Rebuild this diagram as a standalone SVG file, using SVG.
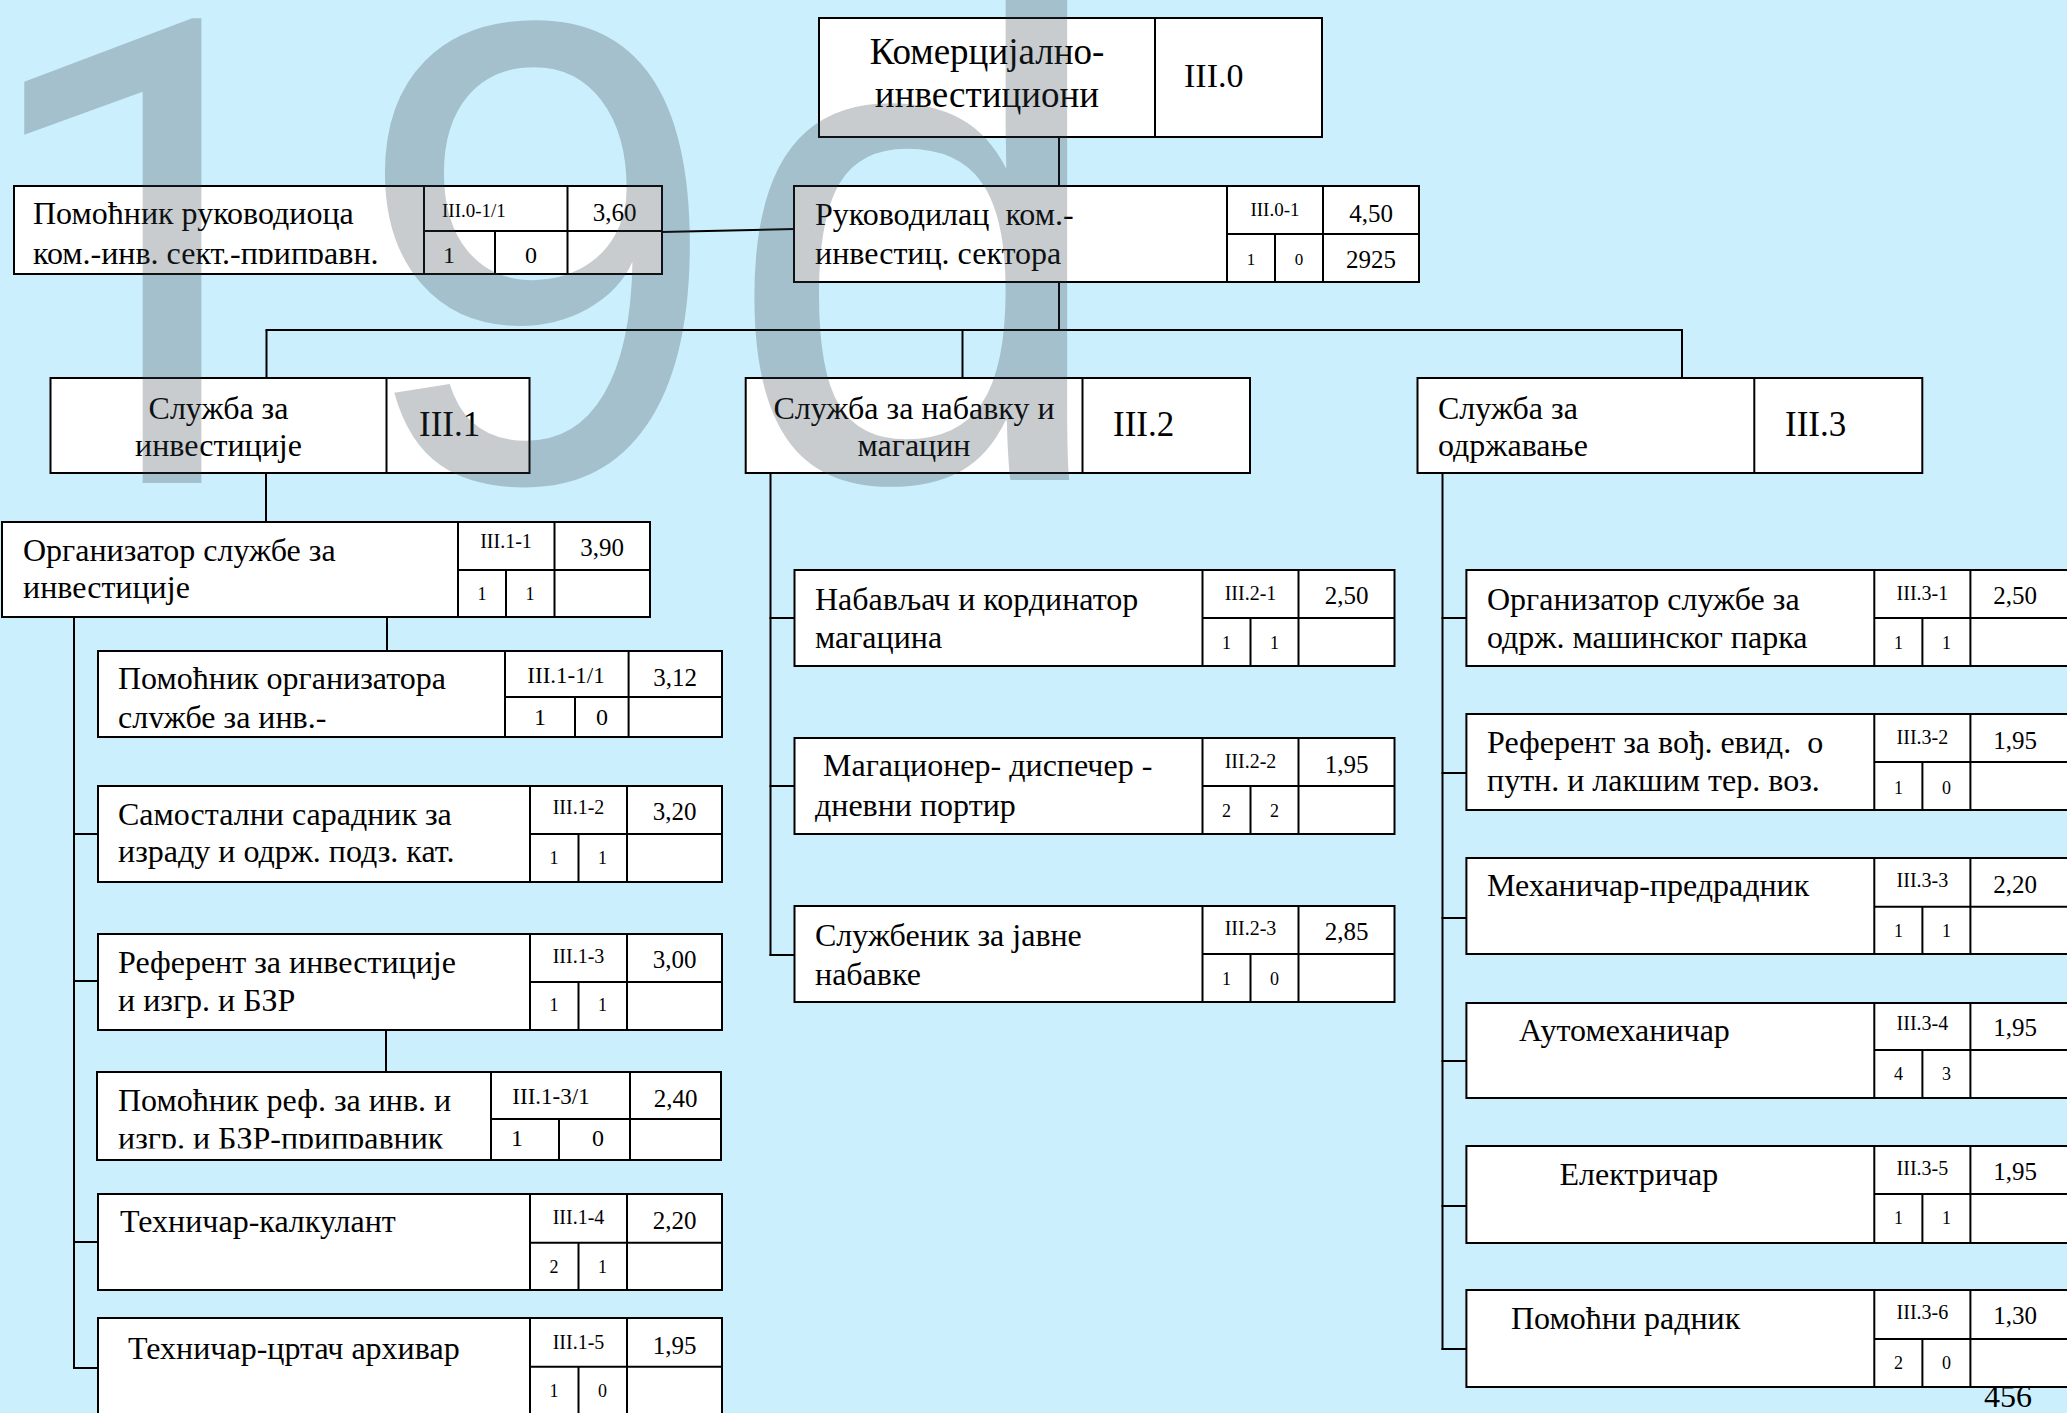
<svg xmlns="http://www.w3.org/2000/svg" width="2067" height="1413" viewBox="0 0 2067 1413">
<style>
.bg{fill:#CCEFFD}
.box{fill:#fff;stroke:#000;stroke-width:2}
.ln{stroke:#000;stroke-width:2;fill:none}
text{font-family:"Liberation Serif","Times New Roman",serif;fill:#000}
.lbl{font-size:32px}
.svc{font-size:32px}
.c{text-anchor:middle}
.hdr{font-size:35px}
.code{font-size:20px;text-anchor:middle}
.val{font-size:25px;text-anchor:middle}
.cnt{font-size:18px;text-anchor:middle}
.cntL{font-size:24px;text-anchor:middle}
.wm{font-family:"Liberation Sans",Arial,sans-serif;fill:#34424A;fill-opacity:0.27}
.wm1{font-family:Roboto,Arial,sans-serif;fill:#34424A;fill-opacity:0.27}
</style>
<defs>
<clipPath id="clipP0"><rect x="14" y="186" width="410" height="78"/></clipPath>
<clipPath id="clipP1"><rect x="98" y="651" width="407" height="77"/></clipPath>
<clipPath id="clipP2"><rect x="97" y="1072" width="394" height="76.5"/></clipPath>
</defs>
<rect class="bg" x="0" y="0" width="2067" height="1413"/>

<g id="connectors">
<line class="ln" x1="1059" y1="137" x2="1059" y2="186"/>
<line class="ln" x1="1059" y1="282" x2="1059" y2="330"/>
<line class="ln" x1="662" y1="232" x2="794" y2="229"/>
<line class="ln" x1="265.5" y1="330" x2="1683" y2="330"/>
<line class="ln" x1="266.5" y1="330" x2="266.5" y2="378"/>
<line class="ln" x1="962.5" y1="330" x2="962.5" y2="378"/>
<line class="ln" x1="1682" y1="330" x2="1682" y2="378"/>
<line class="ln" x1="266" y1="473" x2="266" y2="522"/>
<line class="ln" x1="387" y1="617" x2="387" y2="651"/>
<line class="ln" x1="74" y1="617" x2="74" y2="1369"/>
<line class="ln" x1="73" y1="834" x2="98" y2="834"/>
<line class="ln" x1="73" y1="981" x2="98" y2="981"/>
<line class="ln" x1="73" y1="1242" x2="98" y2="1242"/>
<line class="ln" x1="73" y1="1368" x2="98" y2="1368"/>
<line class="ln" x1="386" y1="1030" x2="386" y2="1072"/>
<line class="ln" x1="770.5" y1="473" x2="770.5" y2="956"/>
<line class="ln" x1="769.5" y1="618" x2="794.5" y2="618"/>
<line class="ln" x1="769.5" y1="786" x2="794.5" y2="786"/>
<line class="ln" x1="769.5" y1="955" x2="794.5" y2="955"/>
<line class="ln" x1="1442.5" y1="473" x2="1442.5" y2="1350"/>
<line class="ln" x1="1441.5" y1="618" x2="1466.5" y2="618"/>
<line class="ln" x1="1441.5" y1="773" x2="1466.5" y2="773"/>
<line class="ln" x1="1441.5" y1="918" x2="1466.5" y2="918"/>
<line class="ln" x1="1441.5" y1="1061" x2="1466.5" y2="1061"/>
<line class="ln" x1="1441.5" y1="1206" x2="1466.5" y2="1206"/>
<line class="ln" x1="1441.5" y1="1349" x2="1466.5" y2="1349"/>
</g>

<g id="n-III0">
<rect class="box" x="819" y="18" width="503" height="119"/>
<line class="ln" x1="1155" y1="18" x2="1155" y2="137"/>
<text class="c" x="987" y="64" style="font-size:37px">Комерцијално-</text>
<text class="c" x="987" y="107" style="font-size:37px">инвестициони</text>
<text x="1184" y="87" style="font-size:34px">III.0</text>
</g>

<g id="n-III0-1-1">
<rect class="box" x="14" y="186" width="648" height="88"/>
<path class="ln" d="M424 186V274M567.5 186V274M424 231H662M495 231V274"/>
<g clip-path="url(#clipP0)">
<text class="lbl" x="33" y="224">Помоћник руководиоца</text>
<text class="lbl" x="33" y="264">ком.-инв. сект.-приправн.</text>
</g>
<text x="442" y="217" style="font-size:19px">III.0-1/1</text>
<text class="val" x="614.5" y="221">3,60</text>
<text class="cntL" x="449" y="263">1</text>
<text class="cntL" x="531" y="263">0</text>
</g>

<g id="n-III0-1">
<rect class="box" x="794" y="186" width="625" height="96"/>
<path class="ln" d="M1227 186V282M1323 186V282M1227 234H1419M1275 234V282"/>
<text class="lbl" x="815" y="225" xml:space="preserve">Руководилац  ком.-</text>
<text class="lbl" x="815" y="264">инвестиц. сектора</text>
<text class="code" x="1275" y="216" style="font-size:19px">III.0-1</text>
<text class="val" x="1371" y="222">4,50</text>
<text class="cnt" x="1251" y="265" style="font-size:17px">1</text>
<text class="cnt" x="1299" y="265" style="font-size:17px">0</text>
<text class="val" x="1371" y="268" style="font-size:25px">2925</text>
</g>

<g id="n-III1">
<rect class="box" x="50.5" y="378" width="479" height="95"/>
<line class="ln" x1="386.5" y1="378" x2="386.5" y2="473"/>
<text class="svc c" x="218.5" y="419">Служба за</text>
<text class="svc c" x="218.5" y="456">инвестиције</text>
<text class="hdr" x="419" y="436">III.1</text>
</g>

<g id="n-III2">
<rect class="box" x="745.7" y="378" width="504.3" height="95"/>
<line class="ln" x1="1082.5" y1="378" x2="1082.5" y2="473"/>
<text class="svc c" x="914" y="419">Служба за набавку и</text>
<text class="svc c" x="914" y="456">магацин</text>
<text class="hdr" x="1113" y="436">III.2</text>
</g>

<g id="n-III3">
<rect class="box" x="1417.5" y="378" width="504.8" height="95"/>
<line class="ln" x1="1754.3" y1="378" x2="1754.3" y2="473"/>
<text class="svc" x="1438" y="419">Служба за</text>
<text class="svc" x="1438" y="456">одржавање</text>
<text class="hdr" x="1785" y="436">III.3</text>
</g>

<g id="n-III1-1">
<rect class="box" x="2" y="522" width="648" height="95"/>
<path class="ln" d="M458 522V617M554.5 522V617M458 570H650M506 570V617"/>
<text class="lbl" x="23" y="561">Организатор службе за</text>
<text class="lbl" x="23" y="598">инвестиције</text>
<text class="code" x="506" y="548">III.1-1</text>
<text class="val" x="602" y="556">3,90</text>
<text class="cnt" x="482" y="600">1</text>
<text class="cnt" x="530" y="600">1</text>
</g>

<g id="n-III1-1-1">
<rect class="box" x="98" y="651" width="624" height="86"/>
<path class="ln" d="M505 651V737M628.6 651V737M505 697H722M575 697V737"/>
<g clip-path="url(#clipP1)">
<text class="lbl" x="118" y="689">Помоћник организатора</text>
<text class="lbl" x="118" y="728">службе за инв.-</text>
</g>
<text class="code" x="566" y="683" style="font-size:23px">III.1-1/1</text>
<text class="val" x="675" y="686">3,12</text>
<text class="cntL" x="540" y="725">1</text>
<text class="cntL" x="602" y="725">0</text>
</g>

<g id="n-III1-2">
<rect class="box" x="98" y="786" width="624" height="96"/>
<path class="ln" d="M530 786V882M627 786V882M530 834H722M578.5 834V882"/>
<text class="lbl" x="118" y="825">Самостални сарадник за</text>
<text class="lbl" x="118" y="862">израду и одрж. подз. кат.</text>
<text class="code" x="578.5" y="814">III.1-2</text>
<text class="val" x="674.5" y="820">3,20</text>
<text class="cnt" x="554" y="864">1</text>
<text class="cnt" x="602.5" y="864">1</text>
</g>

<g id="n-III1-3">
<rect class="box" x="98" y="934" width="624" height="96"/>
<path class="ln" d="M530 934V1030M627 934V1030M530 982H722M578.5 982V1030"/>
<text class="lbl" x="118" y="973">Референт за инвестиције</text>
<text class="lbl" x="118" y="1011">и изгр. и БЗР</text>
<text class="code" x="578.5" y="963">III.1-3</text>
<text class="val" x="674.5" y="968">3,00</text>
<text class="cnt" x="554" y="1011">1</text>
<text class="cnt" x="602.5" y="1011">1</text>
</g>

<g id="n-III1-3-1">
<rect class="box" x="97" y="1072" width="624" height="88"/>
<path class="ln" d="M491 1072V1160M630 1072V1160M491 1119H722M559 1119V1160"/>
<g clip-path="url(#clipP2)">
<text class="lbl" x="118" y="1111">Помоћник реф. за инв. и</text>
<text class="lbl" x="118" y="1149">изгр. и БЗР-приправник</text>
</g>
<text class="code" x="551" y="1104" style="font-size:23px">III.1-3/1</text>
<text class="val" x="675.5" y="1107">2,40</text>
<text class="cntL" x="517" y="1146">1</text>
<text class="cntL" x="598" y="1146">0</text>
</g>

<g id="n-III1-4">
<rect class="box" x="98" y="1194" width="624" height="96"/>
<path class="ln" d="M530 1194V1290M627 1194V1290M530 1242.7H722M578.5 1242.7V1290"/>
<text class="lbl" x="120" y="1232">Техничар-калкулант</text>
<text class="code" x="578.5" y="1224">III.1-4</text>
<text class="val" x="674.5" y="1229">2,20</text>
<text class="cnt" x="554" y="1273">2</text>
<text class="cnt" x="602.5" y="1273">1</text>
</g>

<g id="n-III1-5">
<rect class="box" x="98" y="1318" width="624" height="97"/>
<path class="ln" d="M530 1318V1415M627 1318V1415M530 1366.7H722M578.5 1366.7V1415"/>
<text class="lbl" x="128" y="1359">Техничар-цртач архивар</text>
<text class="code" x="578.5" y="1349">III.1-5</text>
<text class="val" x="674.5" y="1354">1,95</text>
<text class="cnt" x="554" y="1397">1</text>
<text class="cnt" x="602.5" y="1397">0</text>
</g>

<g id="n-III2-1">
<rect class="box" x="794.5" y="570" width="600" height="96"/>
<path class="ln" d="M1202.5 570V666M1298.5 570V666M1202.5 618H1394.5M1250.5 618V666"/>
<text class="lbl" x="815" y="610">Набављач и кординатор</text>
<text class="lbl" x="815" y="648">магацина</text>
<text class="code" x="1250.5" y="600">III.2-1</text>
<text class="val" x="1346.5" y="604">2,50</text>
<text class="cnt" x="1226.5" y="649">1</text>
<text class="cnt" x="1274.5" y="649">1</text>
</g>

<g id="n-III2-2">
<rect class="box" x="794.5" y="738" width="600" height="96"/>
<path class="ln" d="M1202.5 738V834M1298.5 738V834M1202.5 786H1394.5M1250.5 786V834"/>
<text class="lbl" x="815" y="776" xml:space="preserve"> Магационер- диспечер -</text>
<text class="lbl" x="815" y="816">дневни портир</text>
<text class="code" x="1250.5" y="768">III.2-2</text>
<text class="val" x="1346.5" y="773">1,95</text>
<text class="cnt" x="1226.5" y="817">2</text>
<text class="cnt" x="1274.5" y="817">2</text>
</g>

<g id="n-III2-3">
<rect class="box" x="794.5" y="906" width="600" height="96"/>
<path class="ln" d="M1202.5 906V1002M1298.5 906V1002M1202.5 954H1394.5M1250.5 954V1002"/>
<text class="lbl" x="815" y="946">Службеник за јавне</text>
<text class="lbl" x="815" y="985">набавке</text>
<text class="code" x="1250.5" y="935">III.2-3</text>
<text class="val" x="1346.5" y="940">2,85</text>
<text class="cnt" x="1226.5" y="985">1</text>
<text class="cnt" x="1274.5" y="985">0</text>
</g>

<g id="n-III3-1">
<rect class="box" x="1466.4" y="570" width="604" height="96"/>
<path class="ln" d="M1874.3 570V666M1970.4 570V666M1874.3 618H2070M1922.4 618V666"/>
<text class="lbl" x="1487" y="610">Организатор службе за</text>
<text class="lbl" x="1487" y="648">одрж. машинског парка</text>
<text class="code" x="1922.4" y="600">III.3-1</text>
<text class="val" x="2015" y="604">2,50</text>
<text class="cnt" x="1898.4" y="649">1</text>
<text class="cnt" x="1946.4" y="649">1</text>
</g>

<g id="n-III3-2">
<rect class="box" x="1466.4" y="714" width="604" height="96"/>
<path class="ln" d="M1874.3 714V810M1970.4 714V810M1874.3 762H2070M1922.4 762V810"/>
<text class="lbl" x="1487" y="752.5" xml:space="preserve">Референт за вођ. евид.  о</text>
<text class="lbl" x="1487" y="791">путн. и лакшим тер. воз.</text>
<text class="code" x="1922.4" y="744">III.3-2</text>
<text class="val" x="2015" y="749">1,95</text>
<text class="cnt" x="1898.4" y="794">1</text>
<text class="cnt" x="1946.4" y="794">0</text>
</g>

<g id="n-III3-3">
<rect class="box" x="1466.4" y="858" width="604" height="96"/>
<path class="ln" d="M1874.3 858V954M1970.4 858V954M1874.3 906.7H2070M1922.4 906.7V954"/>
<text class="lbl" x="1487" y="896">Механичар-предрадник</text>
<text class="code" x="1922.4" y="887">III.3-3</text>
<text class="val" x="2015" y="892.5">2,20</text>
<text class="cnt" x="1898.4" y="937">1</text>
<text class="cnt" x="1946.4" y="937">1</text>
</g>

<g id="n-III3-4">
<rect class="box" x="1466.4" y="1003" width="604" height="95"/>
<path class="ln" d="M1874.3 1003V1098M1970.4 1003V1098M1874.3 1050H2070M1922.4 1050V1098"/>
<text class="lbl" x="1519" y="1041">Аутомеханичар</text>
<text class="code" x="1922.4" y="1030">III.3-4</text>
<text class="val" x="2015" y="1036">1,95</text>
<text class="cnt" x="1898.4" y="1080">4</text>
<text class="cnt" x="1946.4" y="1080">3</text>
</g>

<g id="n-III3-5">
<rect class="box" x="1466.4" y="1146" width="604" height="97"/>
<path class="ln" d="M1874.3 1146V1243M1970.4 1146V1243M1874.3 1194H2070M1922.4 1194V1243"/>
<text class="lbl" x="1559.5" y="1185">Електричар</text>
<text class="code" x="1922.4" y="1175">III.3-5</text>
<text class="val" x="2015" y="1180">1,95</text>
<text class="cnt" x="1898.4" y="1224">1</text>
<text class="cnt" x="1946.4" y="1224">1</text>
</g>

<g id="n-III3-6">
<rect class="box" x="1466.4" y="1290" width="604" height="97"/>
<path class="ln" d="M1874.3 1290V1387M1970.4 1290V1387M1874.3 1339H2070M1922.4 1339V1387"/>
<text class="lbl" x="1511" y="1328.5">Помоћни радник</text>
<text class="code" x="1922.4" y="1319">III.3-6</text>
<text class="val" x="2015" y="1324">1,30</text>
<text class="cnt" x="1898.4" y="1369">2</text>
<text class="cnt" x="1946.4" y="1369">0</text>
</g>

<text id="page-number" x="1984" y="1407" style="font-size:32px">456</text>

<g id="watermark">
<text class="wm1" x="-30" y="483" style="font-size:650px">1</text>
<text class="wm" x="354" y="481" style="font-size:660px">9</text>
<text class="wm" x="725" y="480" style="font-size:700px">d</text>
</g>
</svg>
